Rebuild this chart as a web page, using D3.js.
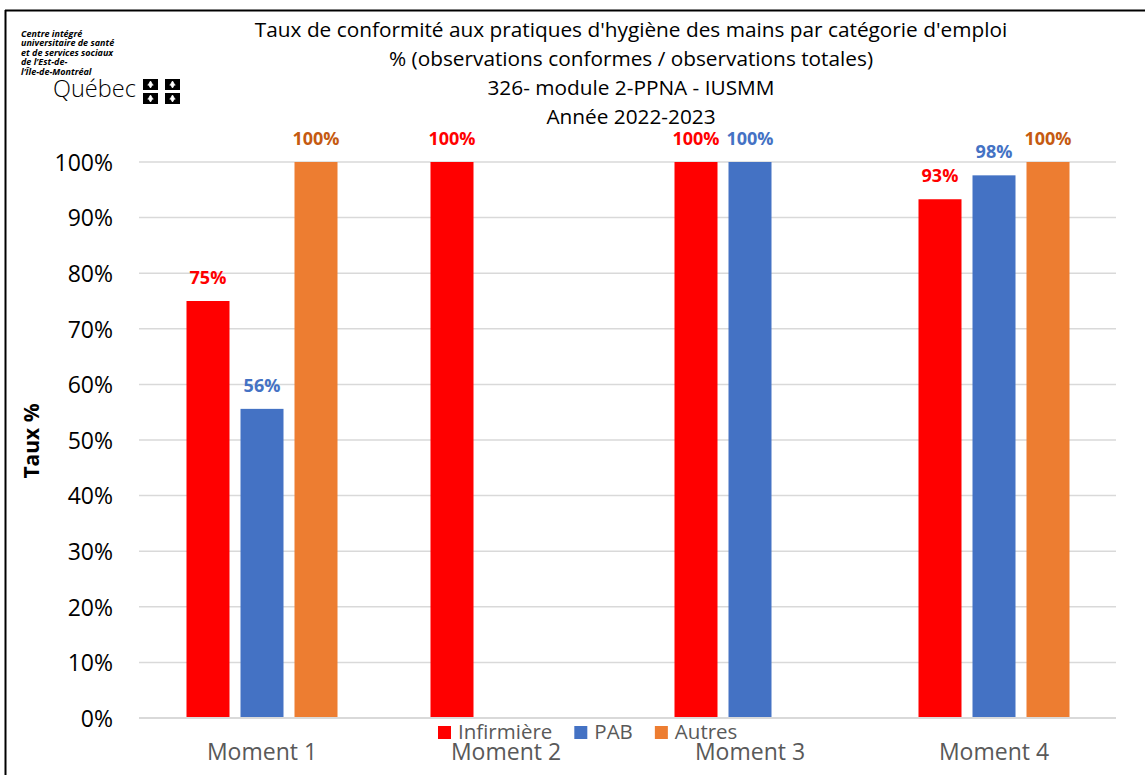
<!DOCTYPE html>
<html>
<head>
<meta charset="utf-8">
<script src="https://cdn.jsdelivr.net/npm/d3@7"></script>
<style>
  body { margin: 0; background: #fff; }
  text { font-family: "Open Sans", sans-serif; }
</style>
</head>
<body>
<svg id="chart" width="1145" height="775"></svg>
<script>
// chart data
const categories = ['Moment 1', 'Moment 2', 'Moment 3', 'Moment 4'];
const seriesNames = ['Infirmière', 'PAB', 'Autres'];
const infirmiere = [0.75, 1.00, 1.00, 0.933];
const pab = [0.556, null, 1.00, 0.976];
const autres = [1.00, null, null, 1.00];
const yTicks = [0, 0.1, 0.2, 0.3, 0.4, 0.5, 0.6, 0.7, 0.8, 0.9, 1.0];
const titleLines = [
  "Taux de conformité aux pratiques d'hygiène des mains par catégorie d'emploi",
  "% (observations conformes / observations totales)",
  "326- module 2-PPNA - IUSMM",
  "Année 2022-2023"
];
const logoLines = ['Centre intégré', 'universitaire de santé', 'et de services sociaux', 'de l\u2019Est-de-', 'l\u2019Île-de-Montréal'];

const barColors = ['#FF0000', '#4472C4', '#ED7D31'];
const labelColors = ['#FF0000', '#4472C4', '#C55A11'];
const seriesValues = [infirmiere, pab, autres];

const svg = d3.select('#chart');

// outer frame (only top and left edges are visible)
svg.append('line').attr('x1', 5).attr('y1', 10.5).attr('x2', 1145).attr('y2', 10.5)
  .attr('stroke', '#000').attr('stroke-width', 2);
svg.append('line').attr('x1', 5.5).attr('y1', 10).attr('x2', 5.5).attr('y2', 775)
  .attr('stroke', '#000').attr('stroke-width', 2);

// scales
const x = d3.scaleBand().domain(categories).range([140, 1116]);
const xSub = d3.scaleBand().domain(seriesNames).range([0, x.bandwidth()])
  .paddingInner(11 / 54).paddingOuter(0.861);
const y = d3.scaleLinear().domain([0, 1]).range([718, 162]);

// gridlines
svg.append('g').selectAll('line')
  .data(yTicks)
  .enter().append('line')
  .attr('x1', 139).attr('x2', 1116)
  .attr('y1', d => y(d)).attr('y2', d => y(d))
  .attr('stroke', '#d9d9d9').attr('stroke-width', 1.5);

// y axis labels
const yAxis = d3.axisLeft(y).tickValues(yTicks).tickFormat(d3.format('.0%')).tickSize(0).tickPadding(0);
const yg = svg.append('g').attr('transform', 'translate(113,0)').call(yAxis);
yg.select('.domain').remove();
yg.selectAll('text')
  .attr('font-family', '"Open Sans", sans-serif')
  .attr('font-size', 23).attr('fill', '#000').attr('dy', '0.36em');

// bars
seriesNames.forEach((name, s) => {
  const vals = categories.map((c, i) => ({ cat: c, v: seriesValues[s][i] })).filter(d => d.v != null);
  const g = svg.append('g').attr('class', 'series-' + s);
  g.selectAll('rect')
    .data(vals)
    .enter().append('rect')
    .attr('x', d => x(d.cat) + xSub(name))
    .attr('width', xSub.bandwidth())
    .attr('y', d => y(d.v))
    .attr('height', d => y(0) - y(d.v))
    .attr('fill', barColors[s]);

  // data labels
  g.selectAll('text')
    .data(vals)
    .enter().append('text')
    .attr('x', d => x(d.cat) + xSub(name) + xSub.bandwidth() / 2)
    .attr('y', d => y(d.v) - 17)
    .attr('text-anchor', 'middle')
    .attr('font-size', 18)
    .attr('font-weight', 'bold')
    .attr('fill', labelColors[s])
    .text(d => d3.format('.0%')(d.v));
});

// baseline axis
svg.append('line').attr('x1', 139).attr('x2', 1116).attr('y1', y(0)).attr('y2', y(0))
  .attr('stroke', '#d9d9d9').attr('stroke-width', 2);

// x labels
svg.append('g').selectAll('text')
  .data(categories)
  .enter().append('text')
  .attr('x', d => x(d) + x.bandwidth() / 2)
  .attr('y', 760)
  .attr('text-anchor', 'middle')
  .attr('font-size', 23)
  .attr('fill', '#595959')
  .text(d => d);

// legend
const legend = svg.append('g').attr('class', 'legend');
let lx = 438;
seriesNames.forEach((name, s) => {
  legend.append('rect').attr('x', lx).attr('y', 726).attr('width', 13).attr('height', 13).attr('fill', barColors[s]);
  const t = legend.append('text')
    .attr('x', lx + 20).attr('y', 739)
    .attr('font-size', 20.5).attr('fill', '#595959')
    .text(name);
  lx += 20 + t.node().getComputedTextLength() + 22;
});

// y axis title
svg.append('text')
  .attr('transform', 'translate(39,441) rotate(-90)')
  .attr('text-anchor', 'middle')
  .attr('font-size', 21).attr('font-weight', 'bold').attr('fill', '#000')
  .text('Taux %');

// title
svg.append('g').selectAll('text')
  .data(titleLines)
  .enter().append('text')
  .attr('x', 631)
  .attr('y', (d, i) => 37 + i * 29)
  .attr('text-anchor', 'middle')
  .attr('font-size', 20.8)
  .attr('fill', '#000')
  .text(d => d);

// logo block
const logo = svg.append('g');
logo.selectAll('text')
  .data(logoLines)
  .enter().append('text')
  .attr('x', 21)
  .attr('y', (d, i) => 37 + i * 9.4)
  .attr('font-family', '"Liberation Sans", Arial, sans-serif')
  .attr('font-size', 9)
  .attr('font-weight', 'bold')
  .attr('font-style', 'italic')
  .text(d => d);
logo.append('text')
  .attr('x', 53).attr('y', 97)
  .attr('font-size', 23.5).attr('font-weight', 300).attr('fill', '#000')
  .text('Québec');
// small flag: four dark fields with a white mark
[[143, 79], [165, 79], [143, 93], [165, 93]].forEach(p => {
  logo.append('rect').attr('x', p[0]).attr('y', p[1]).attr('width', 15).attr('height', 11).attr('fill', '#000');
  logo.append('path')
    .attr('d', `M${p[0] + 7.5},${p[1] + 2} l2,3.5 l-2,3.5 l-2,-3.5 Z M${p[0] + 4.5},${p[1] + 6} h6`)
    .attr('fill', '#fff').attr('stroke', '#fff').attr('stroke-width', 0.8);
});
</script>
</body>
</html>
